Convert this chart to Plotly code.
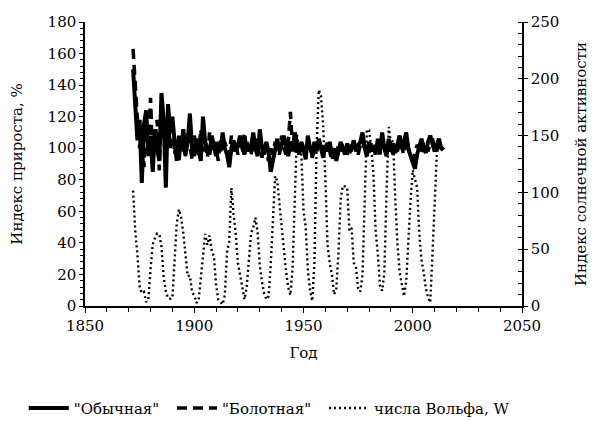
import plotly.graph_objects as go

years = list(range(1872, 2015))

obychnaya = [150, 128, 105, 118, 78, 115, 124, 95, 108, 85,
             112, 100, 92, 135, 118, 75, 128, 110, 120, 104,
             92, 108, 98, 112, 96, 104, 122, 100, 95, 106,
             98, 92, 120, 104, 100, 96, 108, 100, 95, 104,
             98, 110, 100, 96, 88, 100, 105, 98, 102, 108,
             100, 96, 104, 98, 101, 110, 100, 95, 112, 100,
             96, 104, 98, 85, 92, 100, 106, 98, 102, 108,
             100, 95, 104, 98, 110, 102, 96, 104, 100, 93,
             108, 100, 96, 104, 98, 106, 100, 94, 102, 98,
             104, 96, 100, 92, 98, 104, 100, 96, 103, 97,
             100, 105, 98, 102, 104, 110, 100, 95, 104, 98,
             102, 96, 106, 98, 110, 100, 95, 106, 98, 103,
             97, 102, 108, 100, 104, 110, 100, 95, 90, 87,
             96, 102, 106, 100, 97, 104, 108, 103, 98, 102,
             106, 100, 99]

bolotnaya = [163, 135, 118, 100, 110, 88, 120, 102, 132, 90,
             106, 118, 86, 128, 108, 95, 124, 100, 118, 96,
             104, 92, 106, 100, 95, 110, 100, 93, 108, 100,
             96, 112, 98, 104, 94, 110, 98, 104, 100, 92,
             106, 98, 104, 100, 95, 108, 98, 102, 96, 104,
             100, 110, 98, 102, 96, 104, 98, 106, 100, 94,
             102, 98, 92, 100, 96, 104, 100, 96, 108, 100,
             96, 104, 123, 100, 96, 104, 100, 98, 102, 96,
             104, 100, 94, 100, 104, 98, 102, 96, 100, 104,
             98, 92, 100, 96, 102, 98, 104, 100, 96, 102,
             98, 104, 100, 96, 102, 106, 98, 102, 96, 104,
             100, 98, 102, 96, 104, 100, 98, 104, 100, 96,
             102, 98, 104, 100, 96, 106, 100, 94, 92, 98,
             102, 100, 96, 104, 100, 98, 104, 106, 100, 98,
             104, 102, 99]

wolf_years = list(range(1872, 2012))
wolf = [101.6, 66.2, 44.7, 17.0, 11.3, 12.4, 3.4, 6.0, 32.3, 54.3,
        59.7, 63.7, 63.5, 52.2, 25.4, 13.1, 6.8, 6.3, 7.1, 35.6,
        73.0, 85.1, 78.0, 64.0, 41.8, 26.2, 26.7, 12.1, 9.5, 2.7,
        5.0, 24.4, 42.0, 63.5, 53.8, 62.0, 48.5, 43.9, 18.6, 5.7,
        3.6, 1.4, 9.6, 47.4, 57.1, 103.9, 80.6, 63.6, 37.6, 26.1,
        14.2, 5.8, 16.7, 44.3, 63.9, 69.0, 77.8, 64.9, 35.7, 21.2,
        11.1, 5.7, 8.7, 36.1, 79.7, 114.4, 109.6, 88.8, 67.8, 47.5,
        30.6, 16.3, 9.6, 33.2, 92.6, 151.6, 136.3, 134.7, 83.9, 69.4,
        31.5, 13.9, 4.4, 38.0, 141.7, 190.2, 184.8, 159.0, 112.3, 53.9,
        37.6, 27.9, 10.2, 15.1, 47.0, 93.8, 105.9, 105.5, 104.5, 66.6,
        68.9, 38.0, 34.5, 15.5, 12.6, 27.5, 92.5, 155.4, 154.6, 140.4,
        115.9, 66.6, 45.9, 17.9, 13.4, 29.4, 100.2, 157.6, 142.6, 145.7,
        94.3, 54.6, 29.9, 17.5, 8.6, 21.5, 64.3, 93.3, 119.6, 111.0,
        104.0, 63.7, 40.4, 29.8, 15.2, 7.5, 3.0, 45.0, 90.0, 133.0]

names = ['"Обычная"', '"Болотная"', 'числа Вольфа, W']
x_ticks = [1850, 1900, 1950, 2000, 2050]
x_range = [1850, 2050]
y_range = [0, 180]
y2_range = [0, 250]

FONT = "DejaVu Serif"

fig = go.Figure()
fig.add_trace(go.Scatter(x=years, y=obychnaya, name=names[0], mode="lines",
                         line=dict(color="black", width=4), yaxis="y", legend="legend"))
fig.add_trace(go.Scatter(x=years, y=bolotnaya, name=names[1], mode="lines",
                         line=dict(color="black", width=3.5, dash="10px,6px"), yaxis="y",
                         legend="legend2"))
fig.add_trace(go.Scatter(x=wolf_years, y=wolf, name=names[2], mode="lines",
                         line=dict(color="black", width=2.4, dash="2px,3px"), yaxis="y2",
                         legend="legend3"))

tickfont = dict(family=FONT, size=15, color="black")
titlefont = dict(family=FONT, size=15, color="black")

common = dict(showgrid=False, zeroline=False, automargin=False, tickcolor="black", tickwidth=1)


def leg(xpos):
    return dict(orientation="h", x=xpos, xanchor="left", y=-0.36, yanchor="middle",
                font=dict(family=FONT, size=15, color="black"),
                itemwidth=40, bgcolor="rgba(0,0,0,0)")


fig.update_layout(
    width=590, height=413,
    margin=dict(l=77, r=76, t=14, b=115, autoexpand=False),
    paper_bgcolor="white", plot_bgcolor="white",
    font=dict(family=FONT, size=15, color="black"),
    showlegend=True,
    legend=leg(-0.14),
    legend2=leg(0.199),
    legend3=leg(0.547),
    xaxis=dict(range=x_range, tickvals=x_ticks, showline=True, linecolor="black", linewidth=1.5,
               ticks="outside", ticklen=5,
               minor=dict(ticks="outside", dtick=10, ticklen=4, tickcolor="black"),
               tickfont=tickfont,
               title=dict(text="Год", font=titlefont, standoff=14),
               anchor="y", **common),
    xaxis3=dict(range=x_range, tickvals=x_ticks, overlaying="x", anchor="y", side="bottom",
                showline=False, ticks="inside", ticklen=5, showticklabels=False, **common),
    yaxis=dict(range=y_range, dtick=20, showline=True, linecolor="black", linewidth=1.5,
               ticks="outside", ticklen=4,
               minor=dict(ticks="outside", dtick=4, ticklen=3, tickcolor="black"),
               tickfont=tickfont,
               title=dict(text="Индекс прироста, %", font=titlefont, standoff=22), **common),
    yaxis3=dict(range=y_range, dtick=20, overlaying="y", anchor="x", side="left",
                showline=False, ticks="inside", ticklen=5, showticklabels=False, **common),
    yaxis2=dict(range=y2_range, dtick=50, overlaying="y", side="right", anchor="x",
                showline=True, linecolor="black", linewidth=1.5,
                ticks="outside", ticklen=4,
                minor=dict(ticks="inside", dtick=10, ticklen=4, tickcolor="black"),
                tickfont=tickfont,
                title=dict(text="Индекс солнечной активности", font=titlefont, standoff=17), **common),
    yaxis4=dict(range=y2_range, dtick=50, overlaying="y", anchor="x", side="right",
                showline=False, ticks="inside", ticklen=5, showticklabels=False, **common),
)

fig.write_html("out.html")
